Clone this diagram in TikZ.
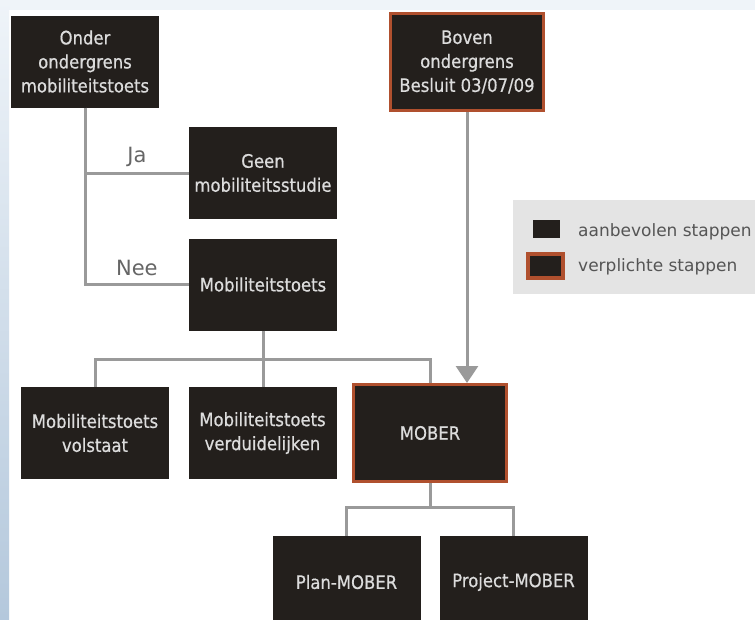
\documentclass[tikz,border=0pt]{standalone}
\usepackage{fontspec}
\setmainfont{DejaVu Sans}
\newfontfamily\stapfont{DejaVu Sans}[FakeStretch=0.89, FakeBold=0.6]
\usetikzlibrary{arrows.meta}
\definecolor{stapzwart}{HTML}{231F1C}
\definecolor{staptekst}{HTML}{DCDCDC}
\definecolor{plichtrood}{HTML}{B0502E}
\definecolor{lijngrijs}{HTML}{9A9A9A}
\definecolor{legendagrijs}{HTML}{E4E4E4}
\definecolor{legendatekst}{HTML}{555555}
\definecolor{keuzetekst}{HTML}{666666}
\definecolor{randlicht}{HTML}{EFF4F9}
\definecolor{randdonker}{HTML}{B4C8DC}

\begin{document}
\begin{tikzpicture}[x=1pt, y=-1pt,
	stap/.style={fill=stapzwart, text=staptekst, minimum width=148pt, minimum height=92pt, inner sep=2pt, align=center, font=\stapfont\fontsize{18.5}{24}\selectfont},
	plicht/.style={stap, draw=plichtrood, line width=3pt, minimum width=153pt, minimum height=97pt},
	tak/.style={draw=lijngrijs, line width=3pt},
	pijl/.style={tak, -{Triangle[width=22pt,length=17pt]}},
	keuze/.style={text=keuzetekst, inner sep=0pt, text depth=0pt, font=\fontsize{21}{24}\selectfont},
	uitleg/.style={text=legendatekst, anchor=west, inner sep=0pt, font=\fontsize{17}{20}\selectfont}]
	\useasboundingbox (0,0) rectangle (755,619);
	\clip (0,0) rectangle (755,619);
	\fill[white] (0,0) rectangle (755,619);
	\fill[randlicht] (0,0) rectangle (755,10);
	\shade[top color=randlicht, bottom color=randdonker] (0,0) rectangle (9,619);

	\node[stap] (onder) at (85,61.5) {Onder\\ondergrens\\mobiliteitstoets};
	\node[plicht] (boven) at (467,62) {Boven\\ondergrens\\Besluit 03/07/09};
	\node[stap] (geen) at (263,173) {Geen\\mobiliteitsstudie};
	\node[stap] (toets) at (263,284.5) {Mobiliteitstoets};
	\node[stap] (volstaat) at (95,433) {Mobiliteitstoets\\volstaat};
	\node[stap] (verduid) at (262.5,433) {Mobiliteitstoets\\verduidelijken};
	\node[plicht] (mober) at (430,433) {MOBER};
	\node[stap] (plan) at (346.5,582) {Plan-MOBER};
	\node[stap] (project) at (513.5,582) {Project-MOBER};

	\coordinate (bus1) at (262,359);
	\coordinate (bus2) at (430,507);

	\draw[tak] (onder) |- node[keuze, pos=.75, above=9pt] {Ja} (geen);
	\draw[tak] (onder) |- node[keuze, pos=.75, above=8pt] {Nee} (toets);
	\draw[tak] (toets.south) -- (toets.south |- verduid.north);
	\draw[tak] (volstaat) |- (bus1) -| (mober);
	\draw[tak] (mober) -- (bus2);
	\draw[tak] (plan) |- (bus2) -| (project);
	\draw[pijl] (boven) -- (boven |- mober.north);

	\fill[legendagrijs] (513,200) rectangle (755,294);
	\node[fill=stapzwart, minimum width=27pt, minimum height=18pt, inner sep=0pt] (leg1) at (546.5,229) {};
	\node[fill=stapzwart, draw=plichtrood, line width=4pt, minimum width=35pt, minimum height=24pt, inner sep=0pt] (leg2) at (545.5,266) {};
	\node[uitleg] (aanbevolen) at (578,232) {aanbevolen stappen};
	\node[uitleg] (verplicht) at (578,267) {verplichte stappen};
\end{tikzpicture}
\end{document}
